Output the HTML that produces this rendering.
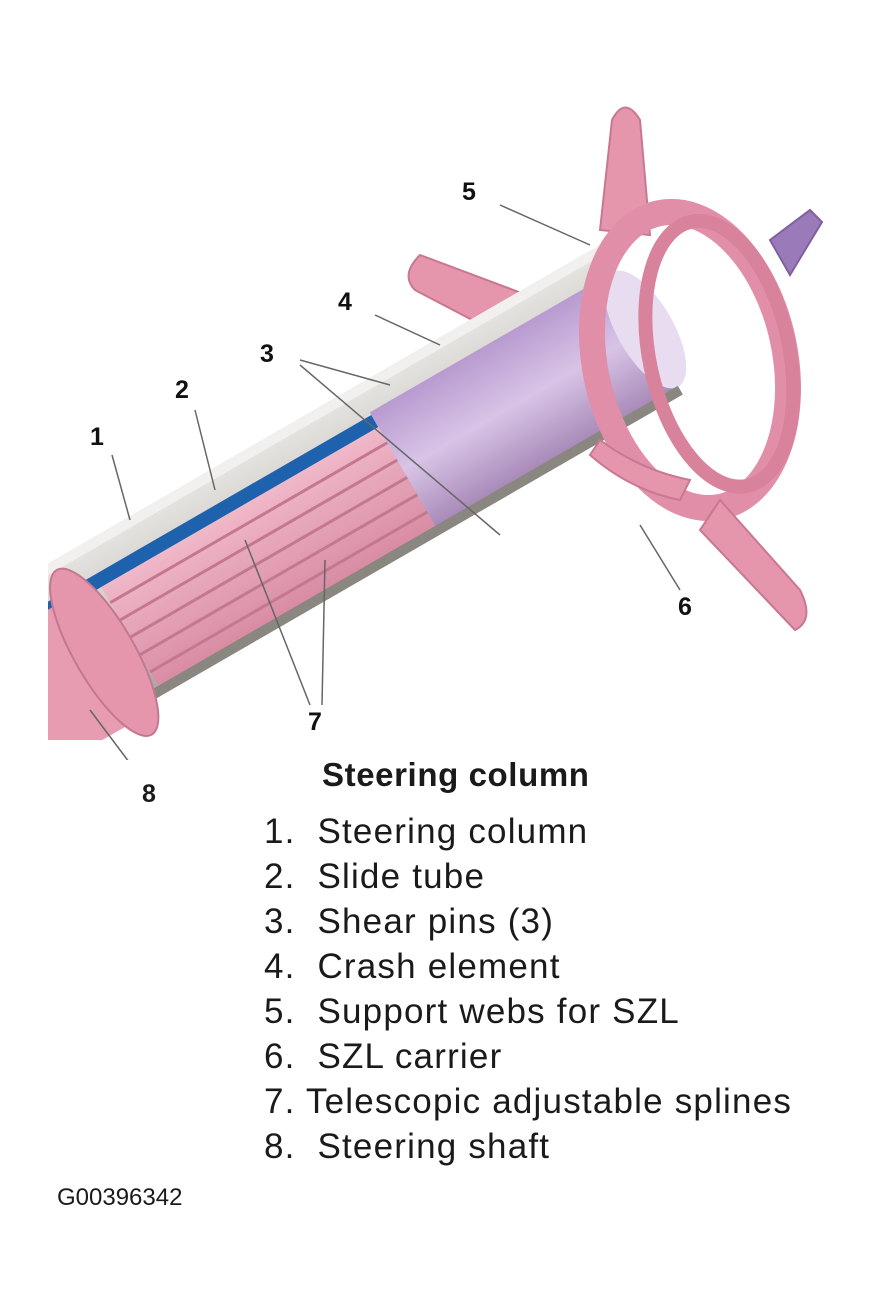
<!DOCTYPE html>
<html><head><meta charset="utf-8"><style>
html,body{margin:0;padding:0;background:#fff;}
body{width:882px;height:1314px;position:relative;overflow:hidden;font-family:"Liberation Sans",sans-serif;}
.t{position:absolute;color:#1a1a1a;white-space:nowrap;}
.li{font-size:35px;left:264px;letter-spacing:1.2px;}
</style></head><body>
<svg width="882" height="760" style="position:absolute;left:0;top:0">
<defs>
<linearGradient id="gr" x1="0" y1="0" x2="0" y2="1"><stop offset="0" stop-color="#e8e6e2"/><stop offset="1" stop-color="#a9a6a2"/></linearGradient>
<linearGradient id="pu" x1="0" y1="0" x2="0" y2="1"><stop offset="0" stop-color="#b89ad0"/><stop offset="0.5" stop-color="#d8c4e6"/><stop offset="1" stop-color="#a88ab8"/></linearGradient>
<linearGradient id="pk" x1="0" y1="0" x2="0" y2="1"><stop offset="0" stop-color="#f0b8c8"/><stop offset="1" stop-color="#d88ca4"/></linearGradient>
<clipPath id="cp"><rect x="48" y="85" width="810" height="655"/></clipPath>
</defs>
<g clip-path="url(#cp)">
<g fill="#e596ad" stroke="#c87890" stroke-width="2">
<path d="M600 230 L612 120 Q625 95 640 120 L650 235 Z"/>
<path d="M540 300 L420 255 Q400 275 415 290 L520 345 Z"/>
<path d="M770 240 L810 210 L822 222 L790 275 Z" fill="#9a7ab8" stroke="#8060a0"/>
</g>
<g transform="translate(380,470) rotate(-30)">
<rect x="-430" y="-85" width="730" height="170" fill="url(#gr)"/>
<rect x="-430" y="-85" width="730" height="10" fill="#f2f0ee"/>
<rect x="-400" y="-52" width="420" height="14" fill="#1e62ae"/>
<rect x="-300" y="-38" width="320" height="115" fill="url(#pk)"/>
<g stroke="#c47890" stroke-width="3">
<line x1="-300" y1="-20" x2="20" y2="-20"/><line x1="-300" y1="0" x2="20" y2="0"/>
<line x1="-300" y1="20" x2="20" y2="20"/><line x1="-300" y1="40" x2="20" y2="40"/><line x1="-300" y1="60" x2="20" y2="60"/>
</g>
<rect x="20" y="-55" width="280" height="132" fill="url(#pu)"/>
<ellipse cx="300" cy="11" rx="28" ry="66" fill="#e8dcf0"/>
<rect x="-430" y="76" width="730" height="10" fill="#8a8680"/>
<rect x="-460" y="-45" width="140" height="140" fill="#e89cb2"/>
<ellipse cx="-330" cy="20" rx="30" ry="95" fill="#e596ad" stroke="#c47890" stroke-width="2"/>
</g>
<g transform="translate(690,360) rotate(-12)">
<ellipse cx="0" cy="0" rx="95" ry="150" fill="none" stroke="#e18fa8" stroke-width="26"/>
<ellipse cx="30" cy="0" rx="70" ry="135" fill="none" stroke="#d8829c" stroke-width="14"/>
</g>
<g fill="#e596ad" stroke="#c87890" stroke-width="2">
<path d="M720 500 L800 590 Q815 620 795 630 L700 530 Z"/>
<path d="M600 440 Q640 470 690 480 L680 500 Q630 490 590 455 Z"/>
</g>
</g>
<g stroke="#666" stroke-width="1.5" fill="none">
<line x1="500" y1="205" x2="590" y2="245"/>
<line x1="375" y1="315" x2="440" y2="345"/>
<line x1="300" y1="360" x2="390" y2="385"/>
<line x1="300" y1="365" x2="500" y2="535"/>
<line x1="195" y1="410" x2="215" y2="490"/>
<line x1="112" y1="455" x2="130" y2="520"/>
<line x1="640" y1="525" x2="680" y2="590"/>
<line x1="310" y1="705" x2="245" y2="540"/>
<line x1="322" y1="705" x2="325" y2="560"/>
<line x1="90" y1="710" x2="135" y2="770"/>
</g>
<g font-family="Liberation Sans,sans-serif" font-weight="bold" font-size="25" fill="#111">
<text x="462" y="200">5</text><text x="338" y="310">4</text><text x="260" y="362">3</text>
<text x="175" y="398">2</text><text x="90" y="445">1</text><text x="678" y="615">6</text><text x="308" y="730">7</text>
</g>
</svg>
<div class="t" style="left:142px;top:780px;font-size:25px;font-weight:bold">8</div>
<div class="t" style="left:322px;top:756px;font-size:33px;font-weight:bold;letter-spacing:0.6px">Steering column</div>
<div class="t li" style="top:812px">1.&nbsp; Steering column</div>
<div class="t li" style="top:857px">2.&nbsp; Slide tube</div>
<div class="t li" style="top:902px">3.&nbsp; Shear pins (3)</div>
<div class="t li" style="top:947px">4.&nbsp; Crash element</div>
<div class="t li" style="top:992px">5.&nbsp; Support webs for SZL</div>
<div class="t li" style="top:1037px">6.&nbsp; SZL carrier</div>
<div class="t li" style="top:1082px">7. Telescopic adjustable splines</div>
<div class="t li" style="top:1127px">8.&nbsp; Steering shaft</div>
<div class="t" style="left:57px;top:1184px;font-size:24px">G00396342</div>
</body></html>
